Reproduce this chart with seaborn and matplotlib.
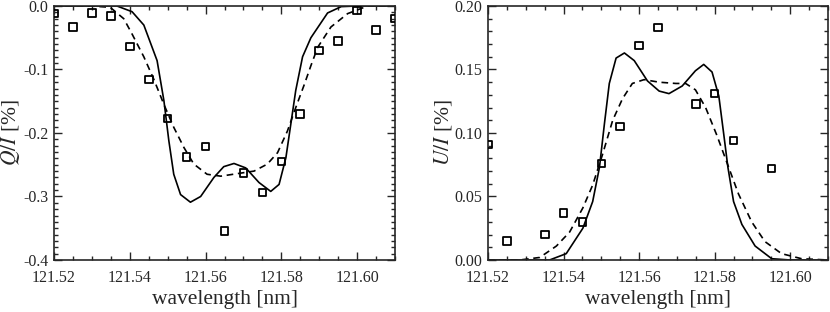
import seaborn as sns
import matplotlib
matplotlib.use("Agg")
import matplotlib.pyplot as plt
from matplotlib.ticker import MultipleLocator, FormatStrFormatter

# observed points (squares)
q_obs_wl = [121.520, 121.525, 121.530, 121.535, 121.540, 121.545, 121.550, 121.555, 121.560, 121.565,
            121.570, 121.575, 121.580, 121.585, 121.590, 121.595, 121.600, 121.605, 121.610]
q_obs = [-0.012, -0.033, -0.011, -0.016, -0.064, -0.116, -0.177, -0.238, -0.221, -0.354,
         -0.263, -0.294, -0.245, -0.170, -0.070, -0.055, -0.007, -0.038, -0.020]

u_obs_wl = [121.520, 121.525, 121.535, 121.540, 121.545, 121.550, 121.555, 121.560, 121.565,
            121.575, 121.580, 121.585, 121.595]
u_obs = [0.091, 0.015, 0.020, 0.037, 0.030, 0.076, 0.105, 0.169, 0.183,
         0.123, 0.131, 0.094, 0.072]

# model curves, Q/I
q_solid_wl = [121.520, 121.530, 121.5366, 121.5406, 121.5437, 121.5472, 121.5490, 121.5503, 121.5516, 121.5534,
              121.5560, 121.5587, 121.5622, 121.5648, 121.5675, 121.5706, 121.5741, 121.5772, 121.5794, 121.5812,
              121.5825, 121.5838, 121.5856, 121.5878, 121.5922, 121.5958, 121.600, 121.610]
q_solid = [0.0, 0.0, 0.0, -0.009, -0.030, -0.086, -0.149, -0.212, -0.265, -0.297,
           -0.309, -0.300, -0.270, -0.253, -0.248, -0.255, -0.278, -0.292, -0.281, -0.239,
           -0.186, -0.133, -0.080, -0.050, -0.011, -0.001, 0.0, 0.0]

q_dash_wl = [121.520, 121.5295, 121.5348, 121.5384, 121.5405, 121.5437, 121.5463, 121.5490, 121.5516, 121.5543,
             121.5569, 121.5604, 121.5640, 121.5684, 121.5728, 121.5763, 121.5790, 121.5816, 121.5838, 121.5861,
             121.5878, 121.5896, 121.5931, 121.5975, 121.6028, 121.610]
q_dash = [0.0, 0.0, -0.002, -0.020, -0.043, -0.080, -0.115, -0.155, -0.191, -0.223,
          -0.249, -0.265, -0.268, -0.264, -0.260, -0.249, -0.231, -0.197, -0.160, -0.123,
          -0.094, -0.065, -0.033, -0.012, 0.0, 0.0]

# model curves, U/I
u_solid_wl = [121.520, 121.5363, 121.5407, 121.5451, 121.5477, 121.5495, 121.5508, 121.5521, 121.5539, 121.5561,
              121.5587, 121.5622, 121.5653, 121.5679, 121.5714, 121.5749, 121.5771, 121.5793, 121.5811, 121.5824,
              121.5835, 121.5850, 121.5872, 121.5907, 121.5951, 121.600, 121.610]
u_solid = [0.0, 0.0, 0.005, 0.025, 0.046, 0.073, 0.107, 0.139, 0.159, 0.163,
           0.157, 0.141, 0.133, 0.131, 0.137, 0.149, 0.154, 0.148, 0.129, 0.099,
           0.073, 0.046, 0.028, 0.011, 0.001, 0.0, 0.0]

u_dash_wl = [121.520, 121.5284, 121.5337, 121.5381, 121.5416, 121.5451, 121.5477, 121.5503, 121.5530, 121.5556,
             121.5582, 121.5613, 121.5653, 121.5697, 121.5723, 121.5749, 121.5776, 121.5806, 121.5837, 121.5863,
             121.5898, 121.5933, 121.5977, 121.603, 121.610]
u_dash = [0.0, 0.0, 0.002, 0.011, 0.022, 0.041, 0.059, 0.083, 0.110, 0.127,
          0.139, 0.142, 0.140, 0.139, 0.139, 0.134, 0.120, 0.098, 0.073, 0.052,
          0.030, 0.0145, 0.005, 0.001, 0.0]

sns.set_style("ticks")
plt.rcParams['font.family'] = ['Liberation Serif', 'DejaVu Serif']
plt.rcParams['mathtext.fontset'] = 'stix'
plt.rcParams['axes.unicode_minus'] = False

fig = plt.figure(figsize=(8.3, 3.12), dpi=100)
ax1 = fig.add_axes([0.0651, 0.1667, 0.4108, 0.8141])
ax2 = fig.add_axes([0.5880, 0.1667, 0.4096, 0.8141])

def draw_panel(ax, obs_wl, obs, s_wl, s, d_wl, d):
    sns.lineplot(x=s_wl, y=s, ax=ax, color='black', lw=1.2, sort=False)
    sns.lineplot(x=d_wl, y=d, ax=ax, color='black', lw=1.2, sort=False,
                 linestyle=(0, (4, 2.8)))
    sns.scatterplot(x=obs_wl, y=obs, ax=ax, marker='s', s=30, facecolor='none',
                    edgecolor='black', linewidth=1.3, clip_on=True, zorder=3)
    ax.set_xlim(121.52, 121.61)
    ax.xaxis.set_major_locator(MultipleLocator(0.02))
    ax.xaxis.set_minor_locator(MultipleLocator(0.005))
    ax.xaxis.set_major_formatter(FormatStrFormatter('%.2f'))
    ax.tick_params(which='both', direction='in', top=True, right=True, labelsize=11.5, width=1)
    ax.tick_params(which='major', length=6)
    ax.tick_params(which='minor', length=3)
    ax.tick_params(axis='y', pad=4)
    ax.tick_params(axis='x', pad=7)
    for sp in ax.spines.values():
        sp.set_linewidth(1.2)
        sp.set_visible(True)
    ax.set_xlabel('wavelength [nm]', fontsize=15.5, labelpad=3)

draw_panel(ax1, q_obs_wl, q_obs, q_solid_wl, q_solid, q_dash_wl, q_dash)
ax1.set_ylim(-0.4, 0.0)
ax1.yaxis.set_major_locator(MultipleLocator(0.1))
ax1.yaxis.set_minor_locator(MultipleLocator(0.01))
ax1.yaxis.set_major_formatter(FormatStrFormatter('%.1f'))
ax1.set_ylabel('$Q/I$ [%]', fontsize=15.5)
ax1.yaxis.set_label_coords(-0.095, 0.5)

draw_panel(ax2, u_obs_wl, u_obs, u_solid_wl, u_solid, u_dash_wl, u_dash)
ax2.set_ylim(0.0, 0.2)
ax2.yaxis.set_major_locator(MultipleLocator(0.05))
ax2.yaxis.set_minor_locator(MultipleLocator(0.01))
ax2.yaxis.set_major_formatter(FormatStrFormatter('%.2f'))
ax2.set_ylabel('$U/I$ [%]', fontsize=15.5)
ax2.yaxis.set_label_coords(-0.10, 0.5)

fig.savefig('out.png', dpi=100)
